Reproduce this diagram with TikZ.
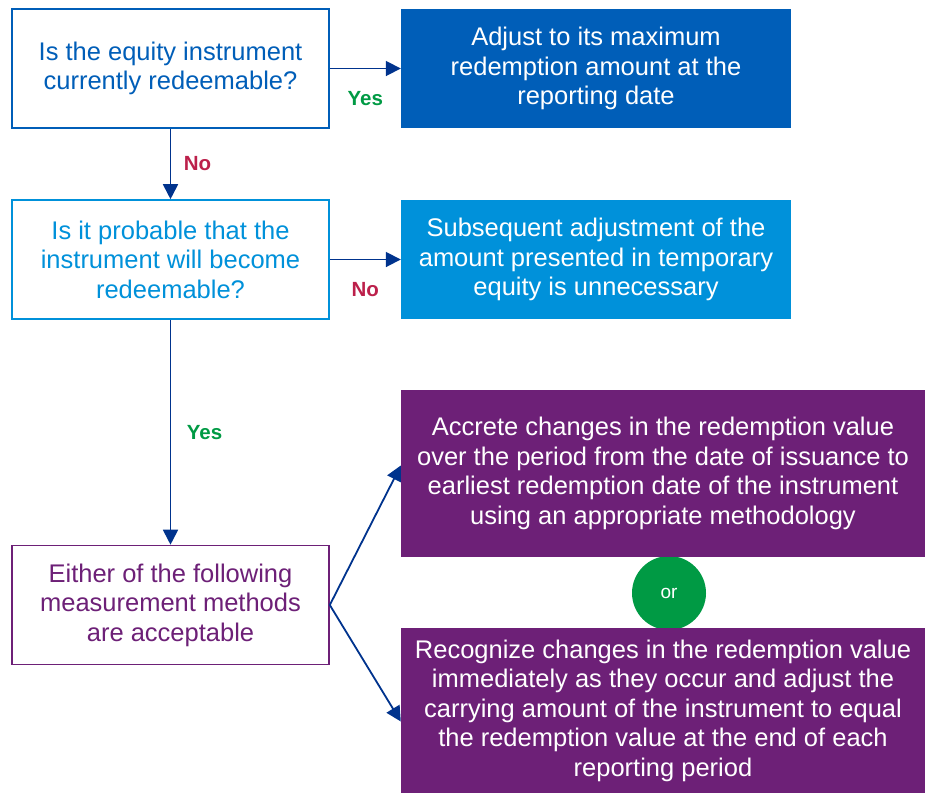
\documentclass[tikz,border=0pt]{standalone}
\usepackage{fontspec}
\setmainfont{Liberation Sans}
\usepackage{xcolor}
\usepackage{tikz}
\usetikzlibrary{arrows.meta, calc, positioning}
\definecolor{kblue}{HTML}{005EB8}
\definecolor{klight}{HTML}{0091DA}
\definecolor{kpurple}{HTML}{6D2077}
\definecolor{kgreen}{HTML}{009A44}
\definecolor{kred}{HTML}{BC204B}
\definecolor{karrow}{HTML}{00338D}

\begin{document}
\begin{tikzpicture}[x=1pt, y=-1pt,
      font=\fontsize{25.5}{29.5}\selectfont,
      qbox/.style={draw=#1, line width=1.6pt, fill=white, text=#1, align=center,
                  inner sep=4pt, minimum width=317pt, minimum height=119pt},
      rbox/.style={fill=#1, text=white, align=center,
                  inner sep=4pt, minimum width=390pt, minimum height=119pt},
      mbox/.style={fill=kpurple, text=white, align=center,
                  inner sep=4pt, minimum width=524pt, minimum height=#1},
      arr/.style={-{Triangle[length=15pt, width=15pt]}, line width=1.8pt, karrow},
      lab/.style={midway, font=\fontsize{20.5}{24}\selectfont\bfseries, inner sep=1pt}]
    \useasboundingbox (0,0) rectangle (925,793);
    \node[qbox=kblue] (current) at (170.5,68.5) {Is the equity instrument\\currently redeemable?};
    \node[rbox=kblue] (adjust) at (596,68.5) {Adjust to its maximum\\redemption amount at the\\reporting date};
    \node[qbox=klight] (probable) at (170.5,259.5) {Is it probable that the\\instrument will become\\redeemable?};
    \node[rbox=klight] (noadjust) at (596,259.5) {Subsequent adjustment of the\\amount presented in temporary\\equity is unnecessary};
    \node[qbox=kpurple] (methods) at (170.5,605) {Either of the following\\measurement methods\\are acceptable};
    \node[circle, fill=kgreen, text=white, minimum size=74pt, inner sep=0pt,
          font=\fontsize{19}{22}\selectfont] (or) at (669,593) {or};
    \node[mbox=167pt] (accrete) at (663,473.5) {Accrete changes in the redemption value\\over the period from the date of issuance to\\earliest redemption date of the instrument\\using an appropriate methodology};
    \node[mbox=165pt] (recognize) at (663,710.5) {Recognize changes in the redemption value\\immediately as they occur and adjust the\\carrying amount of the instrument to equal\\the redemption value at the end of each\\reporting period};
    \draw[arr] (current) -- (adjust) node[lab, yshift=-30pt, text=kgreen]{Yes};
    \draw[arr] (current) -- (probable) node[lab, xshift=27pt, text=kred]{No};
    \draw[arr] (probable) -- (noadjust) node[lab, yshift=-30pt, text=kred]{No};
    \draw[arr] (probable) -- (methods) node[lab, xshift=34pt, text=kgreen]{Yes};
    \draw[arr] (methods.east) -- ([yshift=8pt]accrete.west);
    \draw[arr] (methods.east) -- ([yshift=-11pt]recognize.west);
  \end{tikzpicture}
\end{document}
